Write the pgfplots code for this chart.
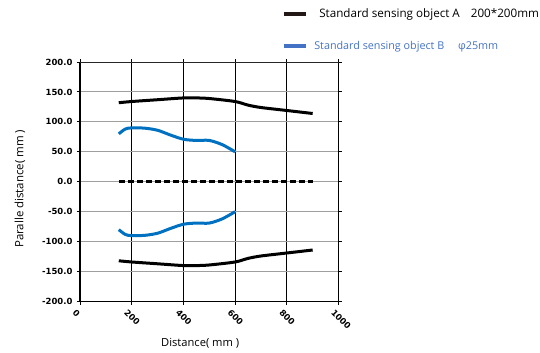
\documentclass[border=0pt]{standalone}
\usepackage{pgfplots}
\pgfplotsset{compat=1.18}
\usepackage{fontspec}
\setmainfont{Open Sans}
\newfontfamily\tickfont{DejaVu Sans}
\definecolor{blueline}{HTML}{0070C0}
\definecolor{legblue}{HTML}{4472C4}
\definecolor{blackline}{HTML}{000000}
\definecolor{legblack}{HTML}{231815}
\begin{document}
\begin{tikzpicture}
\path[use as bounding box] (0bp,0bp) rectangle (540bp,353bp);
\begin{axis}[
  at={(80bp,51.5bp)}, anchor=south west,
  scale only axis, width=258.5bp, height=239.5bp,
  xmin=0, xmax=1000, ymin=-200, ymax=200,
  xtick={0,200,...,1000}, ytick={-200,-150,...,200},
  axis line style={draw=none},
  grid=major,
  x grid style={black, line width=1pt},
  y grid style={gray!75, line width=1pt},
  tick align=outside,
  major tick length=3bp,
  tick style={black, line width=1pt},
  yticklabel style={font=\tickfont\bfseries\fontsize{8.5}{10}\selectfont, xshift=-1bp},
  xticklabel style={font=\tickfont\bfseries\fontsize{8.5}{10}\selectfont, rotate=-45, anchor=north west, xshift=-3bp, yshift=-2bp},
  y tick label style={/pgf/number format/.cd, fixed, fixed zerofill, precision=1, assume math mode=true},
  x tick label style={/pgf/number format/.cd, 1000 sep={}, assume math mode=true},
  xlabel={Distance( mm )},
  ylabel={Paralle distance( mm )},
  label style={font=\fontsize{11.2}{13}\selectfont},
  xlabel style={at={(rel axis cs:0.465,0)}, anchor=center, yshift=-42bp},
  ylabel style={at={(rel axis cs:0,0.5)}, anchor=center, yshift=60bp, xshift=-7bp, font=\fontsize{11.5}{13}\selectfont},
  legend style={at={(0.78,1.232)}, anchor=north west, draw=none, fill=none,
    row sep=18bp, inner sep=0pt, nodes={inner sep=2pt}},
  legend cell align=left,
  clip=false,
]
% axis frame
\draw[line width=2pt, black] (rel axis cs:0,0) -- (rel axis cs:0,1);
\draw[line width=2pt, black] (rel axis cs:0,0) -- (rel axis cs:1,0);
\draw[line width=1pt, black] (rel axis cs:1,0) -- (rel axis cs:1,1);
\draw[line width=1pt, black!85] (rel axis cs:0,1) -- (rel axis cs:1,1);

\addlegendimage{legend image code/.code={\draw[legblack, line width=3.5bp] (0bp,0bp) -- (22bp,0bp);}}
\addlegendentry{\fontsize{11.7}{13}\selectfont\hspace{10bp}Standard sensing object A\hspace{11bp}200*200mm}
\addlegendimage{legend image code/.code={\draw[legblue, line width=3.5bp] (0bp,0bp) -- (22bp,0bp);}}
\addlegendentry{\fontsize{10.8}{12}\selectfont\hspace{5bp}\color{legblue}Standard sensing object B\ \ \ \ \ φ25mm}

\addplot[blackline, line width=3bp, smooth, forget plot] coordinates {
(150,132) (200,134) (300,137) (400,140) (450,140) (500,139) (600,134) (650,128) (700,124) (800,119) (900,114)};
\addplot[blackline, line width=3bp, smooth, forget plot] coordinates {
(150,-132) (200,-134) (300,-137) (400,-140) (450,-140) (500,-139) (600,-134) (650,-128) (700,-124) (800,-119) (900,-114)};
\addplot[blueline, line width=3bp, smooth, forget plot] coordinates {
(150,80) (175,88) (200,90) (250,89.5) (300,86) (350,78) (400,71) (450,69) (500,69) (550,62) (600,50)};
\addplot[blueline, line width=3bp, smooth, forget plot] coordinates {
(150,-80) (175,-88) (200,-90) (250,-89.5) (300,-86) (350,-78) (400,-71) (450,-69) (500,-69) (550,-62) (600,-50)};
\addplot[black, line width=3bp, dash pattern=on 6bp off 3bp, forget plot] coordinates {
(150,0) (300,0) (450,0) (600,0) (750,0) (900,0)};
\end{axis}
\end{tikzpicture}
\end{document}
